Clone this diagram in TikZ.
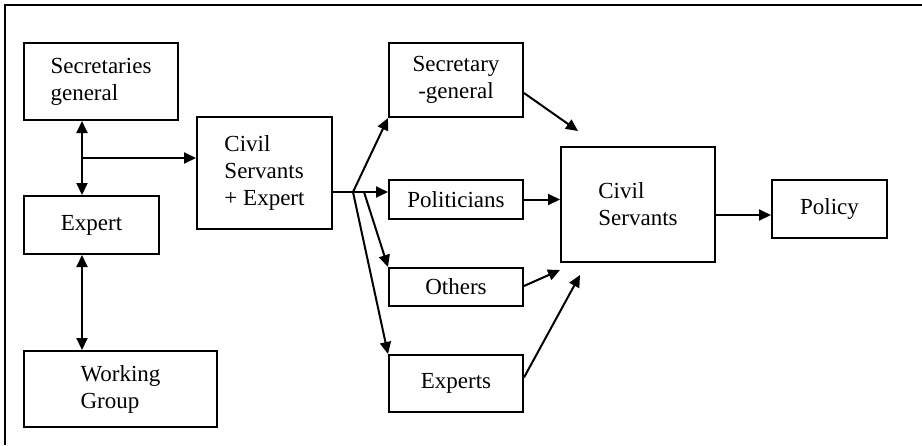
\documentclass[tikz,border=0pt]{standalone}
\usepackage{fontspec}
\setmainfont{Liberation Serif}
\usetikzlibrary{arrows.meta}

\tikzset{
  box/.style={draw, line width=1pt, inner sep=0pt, font=\fontsize{11.5}{13.5}\selectfont},
  arr/.style={line width=1pt, -{Triangle[length=6pt,width=5.5pt]}},
  darr/.style={line width=1pt, {Triangle[length=6pt,width=5.5pt]}-{Triangle[length=6pt,width=5.5pt]}}
}

\begin{document}
\begin{tikzpicture}[x=0.5pt,y=-0.5pt]
        \useasboundingbox (0,0) rectangle (922,445);
        \draw[line width=1pt] (922,5) -- (5,5) -- (5,445);
        \node[box, align=left, minimum width=77pt, minimum height=38.5pt] (secgen) at (101,81.5) {Secretaries\\general};
        \node[box, align=center, minimum width=67.5pt, minimum height=29pt] (expert) at (91.5,225) {Expert};
        \node[box, align=left, minimum width=96.5pt, minimum height=38pt] (wgroup) at (120.5,389) {Working\\Group};
        \node[box, align=left, minimum width=67.5pt, minimum height=56pt] (civexp) at (264.5,173) {Civil\\Servants\\+ Expert};
        \node[box, align=center, minimum width=67pt, minimum height=37pt] (secg) at (456,80) {Secretary\\-general};
        \node[box, align=center, minimum width=67pt, minimum height=19.5pt] (politicians) at (456,199.5) {Politicians};
        \node[box, align=center, minimum width=67pt, minimum height=19pt] (others) at (456,287) {Others};
        \node[box, align=center, minimum width=67pt, minimum height=28.5pt] (experts) at (456,383.5) {Experts};
        \node[box, align=left, minimum width=77pt, minimum height=57.5pt] (civil) at (638,204.5) {Civil\\Servants};
        \node[box, align=center, minimum width=57.5pt, minimum height=29pt] (policy) at (829.5,209) {Policy};
        \coordinate (split1) at (82,158);
        \coordinate (split2) at (353,192);
        \coordinate (split3) at (364,192);
        \coordinate (endsec) at (578,131);
        \coordinate (endoth) at (560,270);
        \coordinate (endexp) at (580,275);
        \coordinate (pin) at ([yshift=-3pt]policy.west);
        \draw[darr] (secgen.south -| split1) -- (expert.north -| split1);
        \draw[darr] (expert.south -| split1) -- (wgroup.north -| split1);
        \draw[arr] (split1) -- (civexp.west |- split1);
        \draw[line width=1pt] (civexp.east |- split2) -- (split2);
        \draw[arr] (split2) -- (secg.south west);
        \draw[arr] (split2) -- (politicians.west |- split2);
        \draw[arr] (split3) -- (others.north west);
        \draw[arr] (split2) -- (experts.north west);
        \draw[arr] ([yshift=-6.5pt]secg.east) -- (endsec);
        \draw[arr] (politicians.east) -- (civil.west |- politicians.east);
        \draw[arr] ([yshift=0.5pt]others.east) -- (endoth);
        \draw[arr] ([yshift=3pt]experts.east) -- (endexp);
        \draw[arr] (civil.east |- pin) -- (pin);
    \end{tikzpicture}
\end{document}
